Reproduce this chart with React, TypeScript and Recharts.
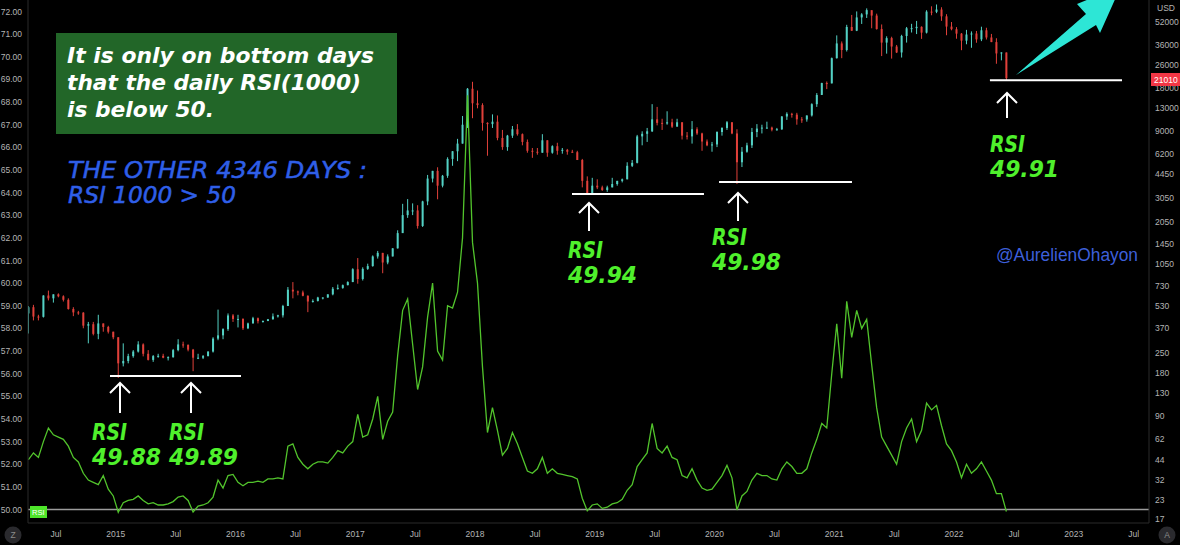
import React from "react";
import { ComposedChart, XAxis, YAxis, Bar, Line, ReferenceLine } from "recharts";

// BTCUSD with the daily RSI(1000), one candle per half month
// first candle: 1-15 April 2014, last candle: 1-15 June 2022
const firstPeriod = 2014.25;
const periodsPerYear = 24;
const firstOpen = 470;

const high = [
  // 2014
  530, 540, 460, 630, 680, 640, 650, 630, 600, 520, 490, 480, 410, 410, 460, 400, 385, 350,
  // 2015
  320, 290, 245, 260, 300, 290, 260, 240, 245, 245, 235, 265, 310, 298, 285, 265, 245, 240, 255, 320, 500, 370, 470, 465,
  // 2016
  460, 435, 405, 445, 440, 420, 430, 470, 460, 540, 720, 780, 680, 680, 630, 590, 615, 610, 640, 720, 750, 750, 790, 975,
  // 2017
  1150, 990, 1050, 1200, 1290, 1250, 1220, 1350, 1800, 2760, 2980, 2780, 2700, 2900, 4400, 4700, 4980, 4400, 5850, 6470, 7880, 11400, 17900, 19800,
  // 2018
  17200, 14000, 10300, 11700, 11500, 9100, 8400, 9700, 10000, 8600, 7800, 6800, 6800, 8500, 7700, 7100, 7400, 6800, 6700, 6600, 6500, 5700, 4300, 4200,
  // 2019
  4100, 3700, 3700, 4200, 4000, 4150, 5400, 5600, 8400, 8900, 9400, 13800, 13200, 10900, 12300, 10900, 10900, 10300, 8800, 10500, 9500, 8700, 7800, 7500,
  // 2020
  8900, 9500, 10500, 10300, 9200, 6900, 7400, 9400, 10000, 9900, 10400, 9600, 9400, 11400, 12100, 12000, 12000, 11200, 11500, 14000, 16500, 19500, 19900, 29300,
  // 2021
  41900, 38000, 49700, 58300, 61700, 60000, 64800, 62500, 59500, 50000, 41300, 41000, 35900, 42300, 48000, 50500, 52900, 48500, 62900, 67000, 69000, 66000, 59000, 52000,
  // 2022
  47900, 43500, 45800, 44700, 45000, 48200, 47400, 42900, 40000, 31900, 31800,
];

const low = [
  // 2014
  340, 420, 420, 440, 580, 560, 610, 570, 500, 450, 460, 370, 290, 330, 310, 350, 340, 310,
  // 2015
  166, 200, 210, 230, 250, 235, 220, 215, 230, 228, 220, 230, 255, 270, 255, 185, 225, 225, 235, 250, 305, 310, 355, 410,
  // 2016
  375, 360, 365, 400, 400, 405, 415, 425, 440, 440, 530, 600, 630, 620, 480, 560, 570, 590, 605, 630, 690, 700, 740, 780,
  // 2017
  760, 800, 950, 1000, 1140, 900, 1040, 1180, 1340, 1730, 2200, 2300, 1850, 1900, 2700, 3900, 2970, 3600, 4200, 5100, 5500, 7300, 9400, 11000,
  // 2018
  12900, 9000, 6000, 9400, 7700, 6600, 6500, 8000, 8300, 7100, 6300, 5800, 6100, 6300, 5900, 6200, 6100, 6200, 6100, 6300, 5600, 3600, 3200, 3200,
  // 2019
  3500, 3400, 3350, 3600, 3700, 3900, 4100, 5000, 5300, 7100, 7500, 8800, 9800, 9100, 9900, 9400, 9600, 7800, 7800, 7300, 8400, 6500, 7000, 6400,
  // 2020
  6900, 8300, 9100, 8500, 3800, 5000, 6300, 6800, 8100, 8600, 9300, 8900, 9000, 9100, 10700, 11100, 9900, 10200, 10400, 11300, 13200, 16300, 17600, 19300,
  // 2021
  28800, 29000, 32300, 45000, 44900, 50400, 55500, 47000, 46000, 30000, 31200, 28800, 31500, 29300, 37300, 43900, 42800, 39600, 43200, 58000, 60000, 53000, 42000, 45500,
  // 2022
  39700, 33000, 36300, 34300, 37200, 38200, 39200, 37600, 26500, 28000, 20100,
];

const close = [
  // 2014
  520, 447, 445, 628, 600, 640, 620, 586, 505, 478, 476, 386, 395, 338, 400, 378, 350, 320,
  // 2015
  210, 218, 236, 254, 285, 245, 222, 236, 237, 230, 232, 260, 285, 283, 262, 230, 230, 236, 254, 313, 330, 365, 455, 430,
  // 2016
  430, 370, 400, 435, 415, 416, 428, 448, 456, 530, 690, 670, 660, 625, 570, 575, 608, 608, 640, 700, 710, 742, 780, 960,
  // 2017
  820, 965, 1010, 1180, 1250, 1070, 1180, 1345, 1720, 2300, 2480, 2480, 1930, 2870, 4150, 4700, 3700, 4340, 5700, 6450, 7300, 9900, 17700, 14000,
  // 2018
  13600, 10200, 10000, 10400, 8000, 6900, 8300, 9200, 8500, 7500, 6500, 6400, 6300, 7700, 6300, 7000, 6500, 6600, 6400, 6350, 5600, 4000, 3250, 3700,
  // 2019
  3600, 3450, 3600, 3800, 4000, 4100, 5100, 5350, 8200, 8550, 8900, 10800, 10200, 10100, 10300, 9600, 10300, 8300, 8200, 9200, 8600, 7550, 7100, 7200,
  // 2020
  8800, 9400, 10300, 8600, 5400, 6400, 7100, 8800, 9300, 9450, 9450, 9140, 9200, 11300, 11800, 11650, 10800, 10780, 11500, 13800, 16000, 19400, 19300, 29000,
  // 2021
  36800, 33100, 48000, 45200, 56000, 58800, 63000, 57700, 46400, 37300, 40100, 35000, 31800, 41500, 47000, 47100, 48100, 43800, 61500, 61300, 63600, 57000, 48300, 46300,
  // 2022
  43100, 38500, 42500, 43200, 39300, 45500, 40500, 37600, 31300, 31800, 21010,
];

const rsi = [
  // 2014
  52.2, 52.5, 52.3, 53.0, 53.6, 53.3, 53.2, 53.1, 52.8, 52.3, 52.1, 51.6, 51.3, 51.2, 51.1, 51.5, 50.9, 50.6,
  // 2015
  49.88, 50.3, 50.4, 50.45, 50.6, 50.4, 50.25, 50.3, 50.2, 50.2, 50.25, 50.35, 50.55, 50.6, 50.4, 49.89, 50.15, 50.2, 50.3, 50.55, 51.3, 50.95, 51.5, 51.55,
  // 2016
  51.2, 51.05, 51.2, 51.2, 51.25, 51.2, 51.35, 51.35, 51.4, 51.35, 52.8, 52.9, 52.3, 52.0, 51.8, 52.0, 52.1, 52.1, 52.05, 52.3, 52.6, 52.5, 52.8, 53.0,
  // 2017
  54.2, 53.2, 53.3, 54.0, 55.0, 53.1, 53.9, 54.3, 56.8, 58.8, 59.3, 57.3, 55.3, 56.3, 58.5, 60.0, 57.0, 56.6, 59.0, 58.9, 59.6, 62.0, 68.3, 61.8,
  // 2018
  60.0, 56.3, 53.4, 54.5, 53.5, 52.4, 52.7, 53.4, 52.9, 52.3, 51.7, 51.6, 51.8, 52.3, 51.6, 51.8, 51.6, 51.55, 51.5, 51.45, 51.35, 50.5, 49.94, 50.2,
  // 2019
  50.25, 50.05, 50.1, 50.25, 50.3, 50.45, 50.85, 51.1, 51.9, 52.2, 52.5, 53.8, 52.7, 52.5, 52.8, 52.3, 52.2, 51.5, 51.4, 51.8, 51.3, 50.95, 50.85, 50.9,
  // 2020
  51.2, 51.5, 51.95, 51.4, 49.98, 50.6, 50.8, 51.3, 51.6, 51.5, 51.5, 51.35, 51.3, 51.8, 52.1, 51.9, 51.6, 51.6, 51.8, 52.5, 53.1, 53.8, 53.6, 56.0,
  // 2021
  58.2, 55.8, 59.2, 57.6, 58.8, 58.0, 58.4, 56.4, 54.5, 53.2, 52.8, 52.4, 52.0, 53.0, 53.6, 54.0, 53.0, 53.5, 54.7, 54.4, 54.6, 53.7, 52.9, 52.6,
  // 2022
  52.1, 51.4, 52.0, 51.6, 51.8, 52.1, 51.7, 51.3, 50.7, 50.7, 49.91,
];

const rsiTicks = [50, 51, 52, 53, 54, 55, 56, 57, 58, 59, 60, 61, 62, 63, 64, 65, 66, 67, 68, 69, 70, 71, 72];
const priceTicks = [17, 23, 32, 44, 62, 90, 130, 180, 250, 370, 530, 730, 1050, 1450, 2050, 3050, 4450, 6200, 9000, 13000, 18000, 26000, 36000, 52000];
const timeTicks = [2014.5, 2015, 2015.5, 2016, 2016.5, 2017, 2017.5, 2018, 2018.5, 2019, 2019.5, 2020, 2020.5, 2021, 2021.5, 2022, 2022.5, 2023, 2023.5];

// horizontal lines drawn under the bottoms (dates as decimal years, price in USD)
const supports = [
  { from: 2014.952, to: 2016.046, price: 171 },
  { from: 2018.81, to: 2019.912, price: 3230 },
  { from: 2020.038, to: 2021.148, price: 3920 },
  { from: 2022.3, to: 2023.403, price: 20300 },
];

const bottoms = [
  { x: 120, tip: 383, tail: 413, textY: 440, value: "49.88" },
  { x: 191, tip: 383, tail: 413, textY: 440, value: "49.89" },
  { x: 589, tip: 203, tail: 231, textY: 258, value: "49.94" },
  { x: 738, tip: 193, tail: 221, textY: 245, value: "49.98" },
  { x: 1007, tip: 93, tail: 118, textY: 152, value: "49.91" },
];
const labelLeft = [92, 169, 568, 712, 990];

const UP = "#53d1c4";
const DOWN = "#e0403a";
const AXIS_TEXT = "#b4b4b4";
const AXIS_LINE = "#2b2b2b";

const rows = close.map((c, i) => ({
  t: firstPeriod + (i + 0.5) / periodsPerYear,
  open: i === 0 ? firstOpen : close[i - 1],
  high: high[i],
  low: low[i],
  close: c,
  range: [low[i], high[i]],
  rsi: rsi[i],
}));

const Candle = (props: any) => {
  const { x, y, width, height, payload } = props;
  if (!payload || x == null || y == null) return null;
  const top = Math.min(y, y + height);
  const span = Math.abs(height);
  const lh = Math.log(payload.high);
  const ll = Math.log(payload.low);
  const toY = (v: number) => top + (span * (lh - Math.log(v))) / (lh - ll || 1);
  const color = payload.close >= payload.open ? UP : DOWN;
  const cx = x + width / 2;
  const bTop = toY(Math.max(payload.open, payload.close));
  const bBot = toY(Math.min(payload.open, payload.close));
  return (
    <g>
      <line x1={cx} x2={cx} y1={top} y2={top + span} stroke={color} strokeWidth={1} />
      <rect x={cx - 1} y={bTop} width={2} height={Math.max(1, bBot - bTop)} fill={color} />
    </g>
  );
};

const timeLabel = (v: number) => (Number.isInteger(v) ? String(v) : "Jul");

export default function App() {
  const tickStyle = { fill: AXIS_TEXT, fontSize: 8.5, fontFamily: "Liberation Sans, Arial, sans-serif" };
  return (
    <div style={{ position: "absolute", left: 0, top: 0, width: 1180, height: 545, background: "#000", overflow: "hidden" }}>
      <ComposedChart width={1180} height={545} data={rows} margin={{ top: 0, right: 0, bottom: 0, left: 0 }}>
        <XAxis
          dataKey="t"
          type="number"
          domain={[2014.2672, 2023.6284]}
          allowDataOverflow
          ticks={timeTicks}
          tickFormatter={timeLabel}
          tick={tickStyle}
          tickLine={false}
          axisLine={{ stroke: AXIS_LINE }}
          height={22}
        />
        <YAxis
          yAxisId="rsi"
          orientation="left"
          domain={[49.404, 72.508]}
          allowDataOverflow
          ticks={rsiTicks}
          tickFormatter={(v: number) => v.toFixed(2)}
          tick={tickStyle}
          tickLine={false}
          tickMargin={0}
          axisLine={{ stroke: AXIS_LINE }}
          width={28}
        />
        <YAxis
          yAxisId="usd"
          orientation="right"
          scale="log"
          domain={[15.94, 74200]}
          allowDataOverflow
          ticks={priceTicks}
          tick={tickStyle}
          tickLine={false}
          tickMargin={0}
          axisLine={{ stroke: AXIS_LINE }}
          width={31}
        />
        <ReferenceLine yAxisId="rsi" y={50} stroke="#9c9c9c" strokeWidth={1.6} />
        <Bar yAxisId="usd" dataKey="range" barSize={3} shape={<Candle />} isAnimationActive={false} />
        <Line
          yAxisId="rsi"
          dataKey="rsi"
          type="linear"
          stroke="#52c42c"
          strokeWidth={1.3}
          dot={false}
          isAnimationActive={false}
        />
        {supports.map((s, i) => (
          <ReferenceLine
            key={i}
            yAxisId="usd"
            segment={[{ x: s.from, y: s.price }, { x: s.to, y: s.price }]}
            stroke="#ffffff"
            strokeWidth={2}
          />
        ))}
      </ComposedChart>

      <svg width={1180} height={545} style={{ position: "absolute", left: 0, top: 0, pointerEvents: "none" }}>
        <rect x={56} y={33} width={341} height={101} fill="#226628" />
        <g fill="#ffffff" fontFamily="DejaVu Sans, Verdana, sans-serif" fontWeight="bold" fontStyle="italic" fontSize={22}>
          <text x={67} y={63} textLength={307} lengthAdjust="spacingAndGlyphs">It is only on bottom days</text>
          <text x={67} y={90} textLength={294} lengthAdjust="spacingAndGlyphs">that the daily RSI(1000)</text>
          <text x={67} y={117} textLength={147} lengthAdjust="spacingAndGlyphs">is below 50.</text>
        </g>
        <g fill="#2f5fe8" stroke="#2f5fe8" strokeWidth={0.5} fontFamily="DejaVu Sans, Verdana, sans-serif" fontStyle="italic" fontSize={23}>
          <text x={68} y={178} textLength={299} lengthAdjust="spacingAndGlyphs">THE OTHER 4346 DAYS :</text>
          <text x={68} y={203} textLength={168} lengthAdjust="spacingAndGlyphs">RSI 1000 &gt; 50</text>
        </g>
        <text x={996} y={261} fill="#3d5fd9" fontFamily="Liberation Sans, Arial, sans-serif" fontSize={18} textLength={142} lengthAdjust="spacingAndGlyphs">
          @AurelienOhayon
        </text>

        {bottoms.map((b, i) => (
          <g key={i}>
            <g stroke="#ffffff" strokeWidth={2} fill="none">
              <line x1={b.x} x2={b.x} y1={b.tip} y2={b.tail} />
              <polyline points={`${b.x - 10},${b.tip + 10} ${b.x},${b.tip} ${b.x + 10},${b.tip + 10}`} />
            </g>
            <g fill="#4ff02c" fontFamily="DejaVu Sans, Verdana, sans-serif" fontWeight="bold" fontStyle="italic" fontSize={23}>
              <text x={labelLeft[i]} y={b.textY} textLength={35} lengthAdjust="spacingAndGlyphs">RSI</text>
              <text x={labelLeft[i]} y={b.textY + 25} textLength={69} lengthAdjust="spacingAndGlyphs">{b.value}</text>
            </g>
          </g>
        ))}

        <polygon points="1016,75 1086,14 1077,4 1121,-14 1100,33 1096,25" fill="#2de6d6" />

        <rect x={30} y={506} width={17} height={12} fill="#4ee52a" />
        <text x={32} y={515} fill="#ffffff" fontSize={7.5} fontFamily="Liberation Sans, Arial, sans-serif">RSI</text>

        <text x={1157} y={11} fill={AXIS_TEXT} fontSize={8.5} fontFamily="Liberation Sans, Arial, sans-serif">USD</text>
        <rect x={1151} y={73} width={29} height={13} fill="#f23645" />
        <text x={1154} y={82.5} fill="#ffffff" fontSize={8.5} fontFamily="Liberation Sans, Arial, sans-serif">21010</text>

        <circle cx={13} cy={535} r={8.5} fill="#2a2a2e" />
        <text x={13} y={538} textAnchor="middle" fill="#8a8a8a" fontSize={8.5} fontFamily="Liberation Sans, Arial, sans-serif">Z</text>
        <circle cx={1167} cy={535} r={8.5} fill="#2a2a2e" />
        <text x={1167} y={538} textAnchor="middle" fill="#8a8a8a" fontSize={8.5} fontFamily="Liberation Sans, Arial, sans-serif">A</text>
      </svg>
    </div>
  );
}
